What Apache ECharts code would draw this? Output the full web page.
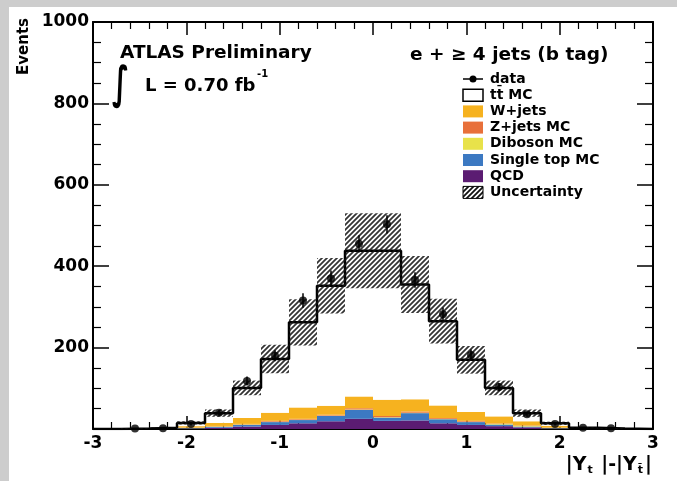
<!DOCTYPE html>
<html>
<head>
<meta charset="utf-8">
<script src="https://cdn.jsdelivr.net/npm/echarts@6/dist/echarts.min.js"></script>
<style>
html,body{margin:0;padding:0;background:#fff;}
#chart{width:677px;height:481px;}
</style>
</head>
<body>
<div id="chart"></div>
<script>
// ---- data ----
var binEdges = [-3,-2.7,-2.4,-2.1,-1.8,-1.5,-1.2,-0.9,-0.6,-0.3,0,0.3,0.6,0.9,1.2,1.5,1.8,2.1,2.4,2.7,3];
var binCenters = [-2.85,-2.55,-2.25,-1.95,-1.65,-1.35,-1.05,-0.75,-0.45,-0.15,0.15,0.45,0.75,1.05,1.35,1.65,1.95,2.25,2.55,2.85];
var qcd       = [0,0,0,1,3,6,10,14,19,25,20,21,14,10,7,4,1,0,0,0];
var singleTop = [0,0,0,1,2,4,7,8,13,22,8,18,10,7,4,2,1,0,0,0];
var diboson   = [0,0,0,1,1.5,1.5,1,1,1,1,1,1,1,1,1.5,1.5,1,0,0,0];
var zjets     = [0,0,0,0.5,1,1,2,2,2,3,3,3,2,2,1,1,0.5,0,0,0];
var wjets     = [0,1,1,3.5,7.5,14.5,20,28,22,29,40,30,31,22,17.5,10.5,4.5,1,1,0];
var ttbar     = [0,0,2,8,24,74,132,209,295,358,366,282,207,128,70,20,6,2,0,0];
var uncert    = [0,1,1,4,9,18,35,57,68,92,92,70,55,34,18,9,4,1,1,0];
var dataVals  = [null,1,2,12,40,118,180,316,370,455,503,366,282,182,103,36,12,3,2,null];
var dataErr   = [0,1,1.4,3.5,6.3,10.9,13.4,17.8,19.2,21.3,22.4,19.1,16.8,13.5,10.1,6,3.5,1.7,1.4,0];
var xTicks = [-3,-2,-1,0,1,2,3];
var yTicks = [0,200,400,600,800,1000];

var colors = {qcd:'#5b1c72', st:'#3c79c2', dib:'#e8e24a', z:'#e8703a', w:'#f6b21f', tt:'#ffffff'};
var FONT = '"DejaVu Sans", sans-serif';

// hatch pattern
var pc = document.createElement('canvas');
pc.width = 5; pc.height = 5;
var ctx = pc.getContext('2d');
ctx.strokeStyle = '#111'; ctx.lineWidth = 1.8;
ctx.beginPath();
ctx.moveTo(0,5); ctx.lineTo(5,0);
ctx.moveTo(-1,1); ctx.lineTo(1,-1);
ctx.moveTo(4,6); ctx.lineTo(6,4);
ctx.stroke();
var hatch = {image: pc, repeat: 'repeat'};

// build stacked rectangles
var layers = [['qcd',qcd],['st',singleTop],['dib',diboson],['z',zjets],['w',wjets],['tt',ttbar]];
var stackRects = [];
var base = binCenters.map(function(){return 0;});
layers.forEach(function(L){
  var vals = L[1];
  for (var i=0;i<vals.length;i++){
    if (vals[i] > 0) stackRects.push([binEdges[i], binEdges[i+1], base[i], base[i]+vals[i], L[0]]);
    base[i] += vals[i];
  }
});
var total = base.slice();
var stepData = [];
for (var i=0;i<total.length;i++) stepData.push([binEdges[i], total[i]]);
stepData.push([binEdges[binEdges.length-1], total[total.length-1]]);

var uncRects = [];
for (var i=0;i<total.length;i++){
  if (uncert[i] > 0) uncRects.push([binEdges[i], binEdges[i+1], Math.max(0,total[i]-uncert[i]), total[i]+uncert[i]]);
}
var pts = [], errs = [];
for (var i=0;i<dataVals.length;i++){
  if (dataVals[i] !== null){
    pts.push([binCenters[i], dataVals[i]]);
    errs.push([binCenters[i], dataVals[i]-dataErr[i], dataVals[i]+dataErr[i]]);
  }
}

function rectRender(fillFn){
  return function(params, api){
    var p0 = api.coord([api.value(0), api.value(3)]);
    var p1 = api.coord([api.value(1), api.value(2)]);
    return {type:'rect', shape:{x:p0[0], y:p0[1], width:p1[0]-p0[0], height:p1[1]-p0[1]},
            style: fillFn(params, api)};
  };
}

var axisCommonX = {
  type:'value', min:-3, max:3, interval:1,
  axisLine:{show:true, onZero:false, lineStyle:{color:'#000', width:2}},
  axisTick:{show:true, inside:true, length:13, lineStyle:{color:'#000', width:1.5}},
  minorTick:{show:true, splitNumber:5, length:7, lineStyle:{color:'#000', width:1.2}},
  splitLine:{show:false}
};
var axisCommonY = {
  type:'value', min:0, max:1000, interval:200,
  axisLine:{show:true, onZero:false, lineStyle:{color:'#000', width:2}},
  axisTick:{show:true, inside:true, length:16, lineStyle:{color:'#000', width:1.5}},
  minorTick:{show:true, splitNumber:4, length:8, lineStyle:{color:'#000', width:1.2}},
  splitLine:{show:false}
};

var legendRows = [
  {name:'data', kind:'data'},
  {name:'tt\u0304 MC', kind:'box'},
  {name:'W+jets', kind:'fill', fill:colors.w},
  {name:'Z+jets MC', kind:'fill', fill:colors.z},
  {name:'Diboson MC', kind:'fill', fill:colors.dib},
  {name:'Single top MC', kind:'fill', fill:colors.st},
  {name:'QCD', kind:'fill', fill:colors.qcd},
  {name:'Uncertainty', kind:'hatch'}
];
var legendEls = [];
legendRows.forEach(function(r, k){
  var yc = 79 + k*16.2;
  if (r.kind === 'data'){
    legendEls.push({type:'line', shape:{x1:463,y1:yc,x2:483,y2:yc}, style:{stroke:'#000', lineWidth:1.5}});
    legendEls.push({type:'circle', shape:{cx:473, cy:yc, r:3.5}, style:{fill:'#000'}});
  } else if (r.kind === 'box'){
    legendEls.push({type:'rect', shape:{x:463,y:yc-6,width:20,height:12}, style:{fill:'#fff', stroke:'#000', lineWidth:1.5}});
  } else if (r.kind === 'hatch'){
    legendEls.push({type:'rect', shape:{x:463,y:yc-6,width:20,height:12}, style:{fill:hatch, stroke:'#000', lineWidth:1}});
  } else {
    legendEls.push({type:'rect', shape:{x:463,y:yc-6,width:20,height:12}, style:{fill:r.fill}});
  }
  legendEls.push({type:'text', x:490, y:yc, style:{text:r.name, font:'bold 14px '+FONT, fill:'#000', verticalAlign:'middle', align:'left'}});
});

var chart = echarts.init(document.getElementById('chart'), null, {renderer:'canvas'});
var option = {
  backgroundColor:'#fff',
  animation:false,
  grid:{left:93, right:24, top:22, bottom:52},
  xAxis:[
    Object.assign({}, axisCommonX, {position:'bottom',
      axisLabel:{show:true, color:'#000', fontSize:17, fontWeight:'bold', fontFamily:FONT, margin:6}}),
    Object.assign({}, axisCommonX, {position:'top', axisLabel:{show:false}})
  ],
  yAxis:[
    Object.assign({}, axisCommonY, {position:'left',
      axisLabel:{show:true, color:'#000', fontSize:17, fontWeight:'bold', fontFamily:FONT, margin:4,
        formatter:function(v){return v===0?'':String(v);}}}),
    Object.assign({}, axisCommonY, {position:'right', axisLabel:{show:false}})
  ],
  series:[
    {type:'custom', name:'stack', data:stackRects, encode:{x:[0,1], y:[2,3]}, clip:true, z:2,
     renderItem: rectRender(function(params, api){ return {fill: colors[stackRects[params.dataIndex][4]]}; })},
    {type:'line', name:'MC total', data:stepData, step:'end', symbol:'none', z:3,
     lineStyle:{color:'#000', width:2.5}},
    {type:'custom', name:'Uncertainty', data:uncRects, encode:{x:[0,1], y:[2,3]}, clip:true, z:4,
     renderItem: rectRender(function(){ return {fill: hatch, opacity:0.85}; })},
    {type:'custom', name:'data err', data:errs, encode:{x:0, y:[1,2]}, z:5,
     renderItem:function(params, api){
       var a = api.coord([api.value(0), api.value(1)]);
       var b = api.coord([api.value(0), api.value(2)]);
       return {type:'line', shape:{x1:a[0],y1:a[1],x2:b[0],y2:b[1]}, style:{stroke:'#000', lineWidth:1.5}};
     }},
    {type:'scatter', name:'data', data:pts, symbol:'circle', symbolSize:8, z:6,
     itemStyle:{color:'#000'}}
  ],
  graphic:[
    {type:'rect', shape:{x:0,y:0,width:677,height:7}, style:{fill:'#cdcdcd'}, z:100},
    {type:'rect', shape:{x:0,y:0,width:9,height:481}, style:{fill:'#cdcdcd'}, z:100},
    {type:'text', x:24, y:18, rotation:Math.PI/2,
     style:{text:'Events', font:'bold 15px '+FONT, fill:'#000', align:'right', verticalAlign:'middle'}},
    {type:'text', x:120, y:53, style:{text:'ATLAS Preliminary', font:'bold 18.5px '+FONT, fill:'#000', verticalAlign:'middle'}},
    {type:'text', x:112, y:86, scaleY:1.6, originX:0, originY:0,
     style:{text:'\u222B', font:'bold 28px '+FONT, fill:'#000', verticalAlign:'middle'}},
    {type:'text', x:145, y:86, style:{text:'L = 0.70 fb', font:'bold 18px '+FONT, fill:'#000', verticalAlign:'middle'}},
    {type:'text', x:257, y:74, style:{text:'-1', font:'bold 10px '+FONT, fill:'#000', verticalAlign:'middle'}},
    {type:'text', x:410, y:55, style:{text:'e + \u2265 4 jets (b tag)', font:'bold 18.5px '+FONT, fill:'#000', verticalAlign:'middle'}},
    {type:'text', x:652, y:476,
     style:{text:'{a||Y}{b|t}{a| |-|Y}{b|t\u0304}{a||}', align:'right', verticalAlign:'bottom',
       rich:{a:{font:'bold 19px '+FONT, fill:'#000', lineHeight:22},
             b:{font:'bold 11px '+FONT, fill:'#000', lineHeight:22, verticalAlign:'bottom', padding:[0,2,0,1]}}}}
  ].concat(legendEls)
};
chart.setOption(option);
</script>
</body>
</html>
